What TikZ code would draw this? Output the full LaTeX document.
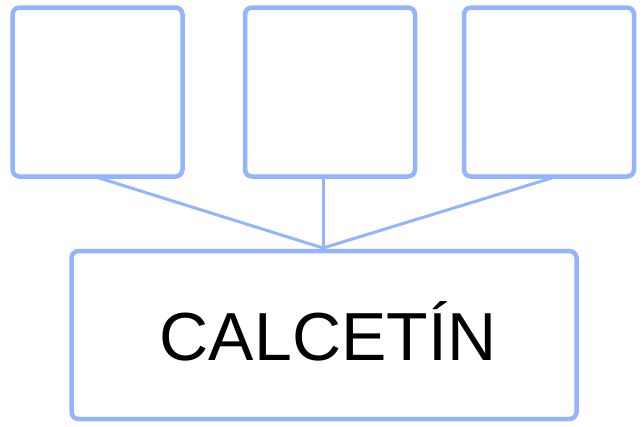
\documentclass[tikz,border=0pt]{standalone}
\usepackage{fontspec}
\setmainfont{Liberation Sans}
\begin{document}
\begin{tikzpicture}[x=1pt,y=-1pt]
	\definecolor{boxblue}{HTML}{94B4FF}
	\tikzset{itembox/.style={draw=boxblue, line width=4.5pt, rounded corners=7pt, inner sep=0pt},
		link/.style={draw=boxblue, line width=3pt}}
	\useasboundingbox (0,0) rectangle (644,426);
	\node [itembox, minimum width=170pt, minimum height=169pt] (left) at (97.5,92) {};
	\node [itembox, minimum width=170pt, minimum height=169pt] (mid) at (330,92) {};
	\node [itembox, minimum width=170pt, minimum height=169pt] (right) at (549,92) {};
	\node [itembox, minimum width=505pt, minimum height=168pt] (sock) at (324,335) {};
	\node [font=\fontsize{68}{68}\selectfont] (word) at (328,331) {CALCETÍN};
	\coordinate (join) at (323,248);
	\draw [link] (96,177) -- (join);
	\draw [link] (mid.south -| join) -- (join);
	\draw [link] (555,177) -- (join);
\end{tikzpicture}
\end{document}
